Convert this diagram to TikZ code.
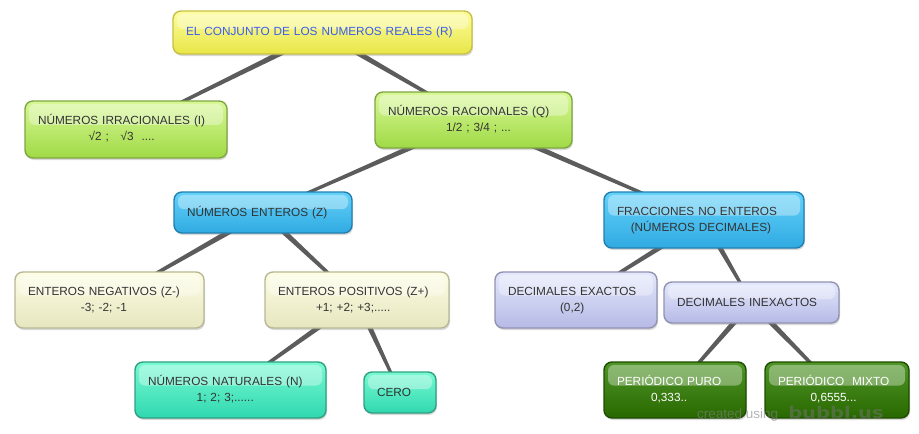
\documentclass[tikz,border=0pt]{standalone}
\usepackage{fontspec}
\setmainfont{Liberation Sans}
\newfontfamily\logoFont{DejaVu Sans}
\usepackage{tikz}
\usetikzlibrary{calc,shadows,backgrounds}
\setlength{\parindent}{0pt}
\tikzstyle{canvas} = [x = 1pt, y = -1pt]
\definecolor{textColor}{RGB}{51,51,51}
\definecolor{rootText}{RGB}{58,92,240}
\definecolor{linkColor}{RGB}{92,92,92}
\definecolor{yellowTop}{RGB}{253,253,160}
\definecolor{yellowBottom}{RGB}{232,230,70}
\definecolor{yellowLine}{RGB}{200,192,70}
\definecolor{limeTop}{RGB}{216,248,150}
\definecolor{limeBottom}{RGB}{160,218,70}
\definecolor{limeLine}{RGB}{128,166,66}
\definecolor{blueTop}{RGB}{100,210,250}
\definecolor{blueBottom}{RGB}{48,170,226}
\definecolor{blueLine}{RGB}{34,128,176}
\definecolor{creamTop}{RGB}{253,253,228}
\definecolor{creamBottom}{RGB}{230,230,192}
\definecolor{creamLine}{RGB}{184,184,150}
\definecolor{lilacTop}{RGB}{228,232,252}
\definecolor{lilacBottom}{RGB}{182,186,230}
\definecolor{lilacLine}{RGB}{146,146,178}
\definecolor{tealTop}{RGB}{120,250,210}
\definecolor{tealBottom}{RGB}{48,216,176}
\definecolor{tealLine}{RGB}{48,160,128}
\definecolor{forestTop}{RGB}{80,150,40}
\definecolor{forestBottom}{RGB}{40,104,0}
\definecolor{forestLine}{RGB}{30,76,0}
\tikzstyle{bubbleStyle} = [rounded corners = 8pt, line width = 1.4pt, shading = axis, text = textColor,
  font = \fontsize{11.8}{16}\selectfont, inner xsep = 13pt, inner ysep = 0pt, align = left,
  drop shadow = {opacity = .3, shadow xshift = 1pt, shadow yshift = -2pt},
  path picture = {\fill [white, opacity = .35, rounded corners = 6pt]
    ([shift = {(4pt,-3pt)}]path picture bounding box.north west) rectangle
    ($([xshift = -4pt]path picture bounding box.north east)!0.42!([xshift = -4pt]path picture bounding box.south east)$);}]
\tikzstyle{yellowBubble} = [top color = yellowTop, bottom color = yellowBottom, draw = yellowLine, text = rootText]
\tikzstyle{limeBubble} = [top color = limeTop, bottom color = limeBottom, draw = limeLine]
\tikzstyle{blueBubble} = [top color = blueTop, bottom color = blueBottom, draw = blueLine]
\tikzstyle{creamBubble} = [top color = creamTop, bottom color = creamBottom, draw = creamLine]
\tikzstyle{lilacBubble} = [top color = lilacTop, bottom color = lilacBottom, draw = lilacLine]
\tikzstyle{tealBubble} = [top color = tealTop, bottom color = tealBottom, draw = tealLine]
\tikzstyle{forestBubble} = [top color = forestTop, bottom color = forestBottom, draw = forestLine, text = white]
\newcommand{\parentHalf}{3pt}
\newcommand{\childHalf}{1.2pt}
% name, style, center x, center y, width, height, text
\newcommand{\bubble}[7]{
  \pgfmathsetmacro{\textW}{#5 - 26}
  \node [bubbleStyle, #2, minimum width = #5 pt, minimum height = #6 pt, text width = \textW pt] (#1) at (#3,#4) {#7};
}
\newcommand{\twoLines}[2]{\begin{tabular}{@{}c@{}}#1\\#2\end{tabular}}
\newcommand{\bubbleLink}[2]{\fill [linkColor] ($(#1)!\parentHalf!90:(#2)$) -- ($(#2)!\childHalf!-90:(#1)$) -- ($(#2)!\childHalf!90:(#1)$) -- ($(#1)!\parentHalf!-90:(#2)$) -- cycle;}

\begin{document}
\begin{tikzpicture}[canvas]
  \useasboundingbox (0,0) rectangle (919,434);
  \bubble{reales}{yellowBubble}{322.5}{32.5}{299}{43}{EL CONJUNTO DE LOS NUMEROS REALES (R)}
  \bubble{irracionales}{limeBubble}{126}{129.5}{202}{57}{\twoLines{NÚMEROS IRRACIONALES (I)}{√2 ;\ \ \ √3\ \ ....}}
  \bubble{racionales}{limeBubble}{473.5}{120}{197}{56}{\twoLines{NÚMEROS RACIONALES (Q)}{\ \ \ \ \ 1/2 ; 3/4 ; ...}}
  \bubble{enteros}{blueBubble}{263}{212.5}{178}{41}{NÚMEROS ENTEROS (Z)}
  \bubble{fracciones}{blueBubble}{704}{220}{200}{56}{\twoLines{FRACCIONES NO ENTEROS}{\ \ (NÚMEROS DECIMALES)}}
  \bubble{negativos}{creamBubble}{109.5}{300}{189}{56}{\twoLines{ENTEROS NEGATIVOS (Z-)}{-3; -2; -1}}
  \bubble{positivos}{creamBubble}{357}{300}{184}{56}{\twoLines{ENTEROS POSITIVOS (Z+)}{+1; +2; +3;.....}}
  \bubble{naturales}{tealBubble}{230.5}{390}{191}{56}{\twoLines{NÚMEROS NATURALES (N)}{1; 2; 3;......}}
  \bubble{cero}{tealBubble}{400}{392.5}{72}{41}{CERO}
  \bubble{exactos}{lilacBubble}{576}{300}{162}{56}{\twoLines{DECIMALES EXACTOS}{(0,2)}}
  \bubble{inexactos}{lilacBubble}{751.5}{302.5}{175}{41}{DECIMALES INEXACTOS}
  \bubble{puro}{forestBubble}{675}{390}{142}{56}{\twoLines{PERIÓDICO PURO}{0,333..}}
  \bubble{mixto}{forestBubble}{837}{390}{144}{56}{\twoLines{PERIÓDICO\ \ MIXTO}{0,6555...}}

  \begin{scope}[on background layer]
    \bubbleLink{reales}{irracionales}
    \bubbleLink{reales}{racionales}
    \bubbleLink{racionales}{enteros}
    \bubbleLink{racionales}{fracciones}
    \bubbleLink{enteros}{negativos}
    \bubbleLink{enteros}{positivos}
    \bubbleLink{positivos}{naturales}
    \bubbleLink{positivos}{cero}
    \bubbleLink{fracciones}{exactos}
    \bubbleLink{fracciones}{inexactos}
    \bubbleLink{inexactos}{puro}
    \bubbleLink{inexactos}{mixto}
  \end{scope}

  \node [anchor = base west, inner sep = 0pt, text = gray, opacity = .6, font = \fontsize{13.5}{14}\selectfont] (createdText) at (697,418) {created using};
  \node [anchor = base west, inner sep = 0pt, text = gray!90!black, opacity = .5, xscale = 1.22, transform shape, font = \logoFont\bfseries\fontsize{16}{16}\selectfont] (logoText) at (788,418) {bubbl.us};
\end{tikzpicture}
\end{document}
